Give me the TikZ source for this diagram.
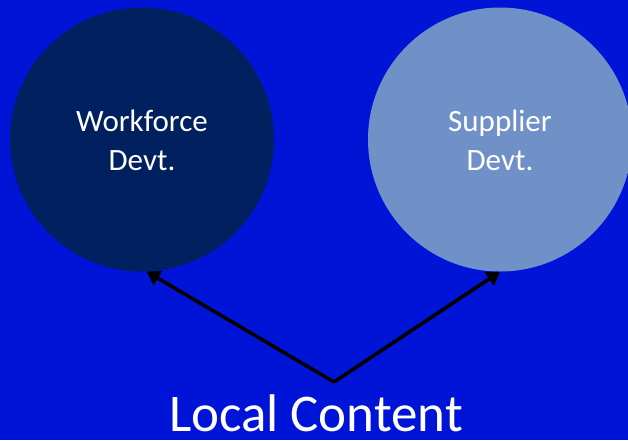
\documentclass[tikz,border=0pt]{standalone}
\usepackage{fontspec}
\setmainfont{Carlito}
\usetikzlibrary{arrows.meta}
\definecolor{bgblue}{RGB}{0,20,216}
\definecolor{navy}{RGB}{0,32,96}
\definecolor{lightblue}{RGB}{112,144,200}
\tikzset{
  bubble/.style={circle, minimum size=264pt, inner sep=0pt, draw=none},
  bubbletext/.style={text=white, align=center, font=\fontsize{31}{39}\selectfont},
  link/.style={draw=black, line width=3.5pt, -{Triangle[length=13pt,width=16pt]}}
}
\begin{document}
\begin{tikzpicture}[x=1pt,y=-1pt]
\fill[bgblue] (0,0) rectangle (628,440);
\useasboundingbox (0,0) rectangle (628,440);
\node[bubble, fill=navy] (wf) at (142,139.5) {};
\node[bubble, fill=lightblue] (sd) at (500,139.5) {};
\node[bubbletext] (wft) at (142,140) {Workforce\\Devt.};
\node[bubbletext] (sdt) at (500,140) {Supplier\\Devt.};
\coordinate (v) at (334,382);
\node[text=white, anchor=base, font=\fontsize{53}{60}\selectfont, inner sep=0pt] (lc) at (316,431) {Local Content};
\draw[link] (v) -- (wf.{-88});
\draw[link] (v) -- (sd.{-90});
\end{tikzpicture}
\end{document}
